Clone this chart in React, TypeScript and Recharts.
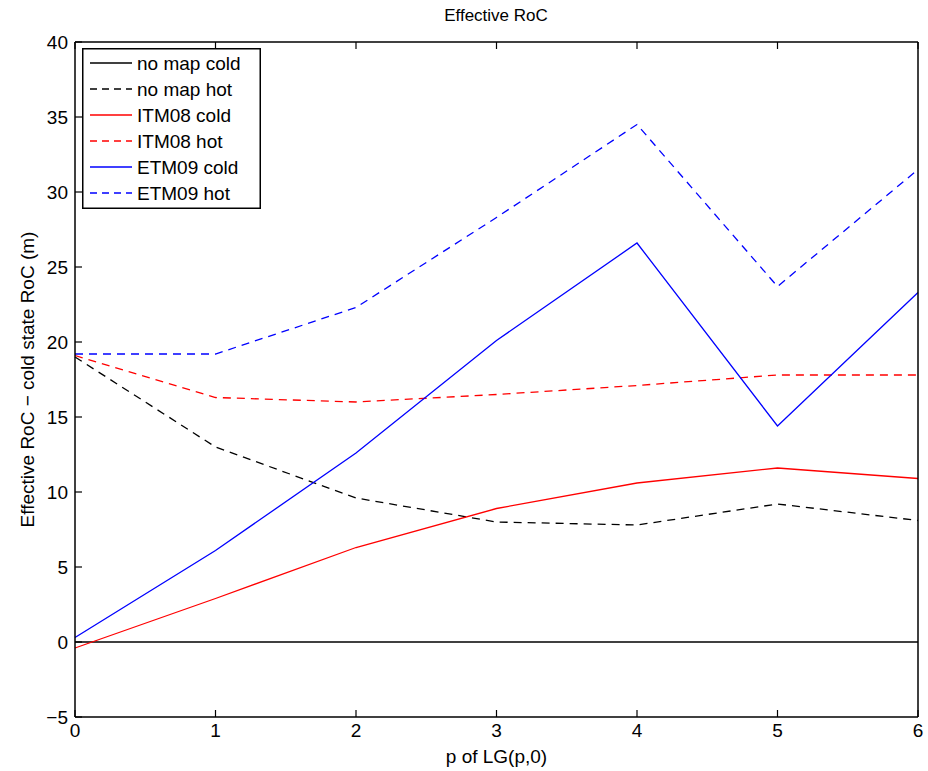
import React from 'react';
import { LineChart, Line, XAxis, YAxis, Label } from 'recharts';

const pValues = [0, 1, 2, 3, 4, 5, 6];
const noMapCold = [0, 0, 0, 0, 0, 0, 0];
const noMapHot = [19.0, 13.0, 9.6, 8.0, 7.8, 9.2, 8.1];
const itm08Cold = [-0.4, 2.9, 6.3, 8.9, 10.6, 11.6, 10.9];
const itm08Hot = [19.1, 16.3, 16.0, 16.5, 17.1, 17.8, 17.8];
const etm09Cold = [0.3, 6.1, 12.6, 20.1, 26.6, 14.4, 23.3];
const etm09Hot = [19.2, 19.2, 22.3, 28.3, 34.5, 23.7, 31.5];
const xTicks = [0, 1, 2, 3, 4, 5, 6];
const yTicks = [-5, 0, 5, 10, 15, 20, 25, 30, 35, 40];

const data = pValues.map((p, i) => ({
  p,
  noMapCold: noMapCold[i],
  noMapHot: noMapHot[i],
  itm08Cold: itm08Cold[i],
  itm08Hot: itm08Hot[i],
  etm09Cold: etm09Cold[i],
  etm09Hot: etm09Hot[i],
}));

const series = [
  { key: 'noMapCold', name: 'no map cold', color: '#000000', dash: undefined },
  { key: 'noMapHot', name: 'no map hot', color: '#000000', dash: '8 6' },
  { key: 'itm08Cold', name: 'ITM08 cold', color: '#ff0000', dash: undefined },
  { key: 'itm08Hot', name: 'ITM08 hot', color: '#ff0000', dash: '8 6' },
  { key: 'etm09Cold', name: 'ETM09 cold', color: '#0000ff', dash: undefined },
  { key: 'etm09Hot', name: 'ETM09 hot', color: '#0000ff', dash: '8 6' },
];

const FONT = 'Liberation Sans, Arial, Helvetica, sans-serif';
const TICK_LEN = 7;
const GAP = 7;

const LegendBox = () => (
  <svg width={179} height={161} style={{ display: 'block' }}>
    <rect x={0.75} y={0.75} width={177.5} height={159.5} fill="#fff" stroke="#000" strokeWidth={1.5} />
    {series.map((s, i) => {
      const y = 15 + i * 26;
      return (
        <g key={s.key}>
          <line x1={8} x2={50} y1={y} y2={y} stroke={s.color} strokeWidth={1.3} strokeDasharray={s.dash ? '7 5' : undefined} />
          <text x={55} y={y} dy="0.35em" fontSize={19} fontFamily={FONT} fill="#000">{s.name}</text>
        </g>
      );
    })}
  </svg>
);

const fmt = (v: number) => (v < 0 ? '\u2212' + Math.abs(v) : String(v));

const BottomTick = (props: any) => {
  const { x, y, payload } = props;
  const ay = y - GAP;
  return (
    <g>
      <line x1={x} x2={x} y1={ay} y2={ay - TICK_LEN} stroke="#000" strokeWidth={1.2} />
      <text x={x} y={y} dy="0.71em" textAnchor="middle" fontSize={19} fontFamily={FONT} fill="#000">{fmt(payload.value)}</text>
    </g>
  );
};

const LeftTick = (props: any) => {
  const { x, y, payload } = props;
  const ax = x + GAP;
  return (
    <g>
      <line x1={ax} x2={ax + TICK_LEN} y1={y} y2={y} stroke="#000" strokeWidth={1.2} />
      <text x={x} y={y} dy="0.355em" textAnchor="end" fontSize={19} fontFamily={FONT} fill="#000">{fmt(payload.value)}</text>
    </g>
  );
};

const TopTick = (props: any) => {
  const { x, y } = props;
  return <line x1={x} x2={x} y1={y} y2={y + TICK_LEN} stroke="#000" strokeWidth={1.2} />;
};

const RightTick = (props: any) => {
  const { x, y } = props;
  return <line x1={x} x2={x - TICK_LEN} y1={y} y2={y} stroke="#000" strokeWidth={1.2} />;
};

export default function App() {
  return (
    <div style={{ position: 'absolute', left: 0, top: 0, width: 928, height: 771, background: '#fff' }}>
      <svg width={928} height={30} style={{ position: 'absolute', left: 0, top: 0 }}>
        <text x={496} y={15} textAnchor="middle" dominantBaseline="central" fontSize={17} fontFamily={FONT} fill="#000">Effective RoC</text>
      </svg>
      <LineChart
        width={928}
        height={771}
        data={data}
        margin={{ top: 41, right: 9, bottom: 24, left: 35 }}
      >
        <XAxis
          dataKey="p"
          type="number"
          domain={[0, 6]}
          ticks={xTicks}
          xAxisId="bottom"
          height={30}
          tickSize={0}
          tickMargin={GAP}
          tick={BottomTick}
          tickLine={false}
          axisLine={{ stroke: '#000', strokeWidth: 1.5 }}
          interval={0}
        >
          <Label value="p of LG(p,0)" position="insideBottom" offset={-16} style={{ fontSize: 19, fontFamily: FONT, fill: '#000' }} />
        </XAxis>
        <XAxis
          dataKey="p"
          type="number"
          domain={[0, 6]}
          ticks={xTicks}
          xAxisId="top"
          orientation="top"
          height={1}
          tickSize={0}
          tickMargin={0}
          tick={TopTick}
          tickLine={false}
          axisLine={{ stroke: '#000', strokeWidth: 1.5 }}
          interval={0}
        />
        <YAxis
          yAxisId="left"
          type="number"
          domain={[-5, 40]}
          ticks={yTicks}
          width={40}
          tickSize={0}
          tickMargin={GAP}
          tick={LeftTick}
          tickLine={false}
          axisLine={{ stroke: '#000', strokeWidth: 1.5 }}
          interval={0}
        >
          <Label
            value="Effective RoC − cold state RoC (m)"
            angle={-90}
            position="insideLeft"
            offset={-8}
            style={{ fontSize: 19, fontFamily: FONT, fill: '#000', textAnchor: 'middle' }}
          />
        </YAxis>
        <YAxis
          yAxisId="right"
          orientation="right"
          type="number"
          domain={[-5, 40]}
          ticks={yTicks}
          width={1}
          tickSize={0}
          tickMargin={0}
          tick={RightTick}
          tickLine={false}
          axisLine={{ stroke: '#000', strokeWidth: 1.5 }}
          interval={0}
        />
        {series.map((s) => (
          <Line
            key={s.key}
            xAxisId="bottom"
            yAxisId="left"
            type="linear"
            dataKey={s.key}
            name={s.name}
            stroke={s.color}
            strokeWidth={1.3}
            strokeDasharray={s.dash}
            dot={false}
            activeDot={false}
            isAnimationActive={false}
          />
        ))}
      </LineChart>
      <div style={{ position: 'absolute', left: 82, top: 48 }}>
        <LegendBox />
      </div>
    </div>
  );
}
